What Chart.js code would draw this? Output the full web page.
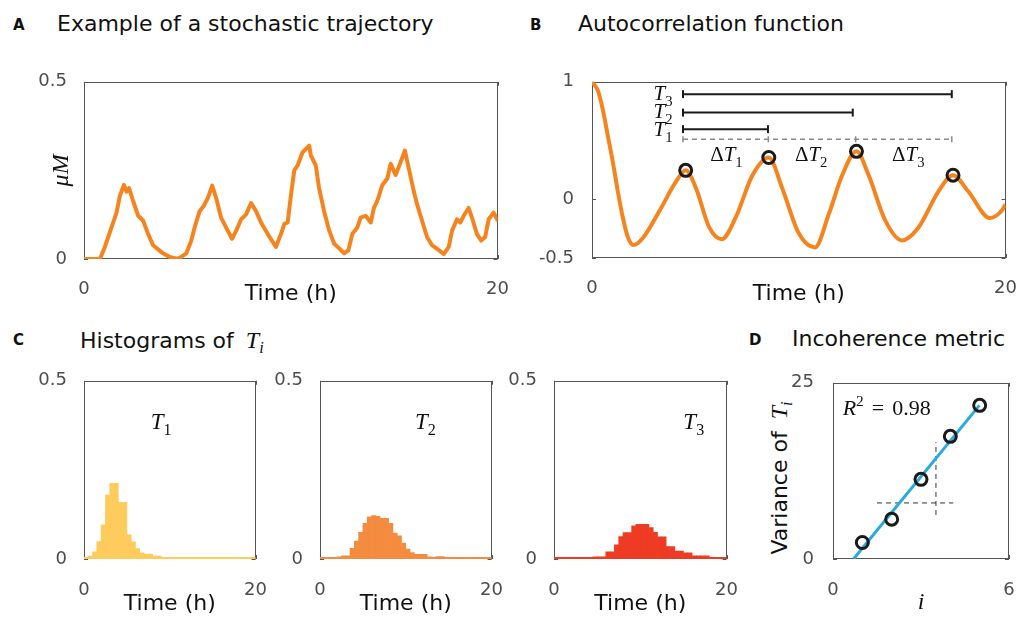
<!DOCTYPE html>
<html>
<head>
<meta charset="utf-8">
<script src="https://cdn.jsdelivr.net/npm/chart.js@4.4.1/dist/chart.umd.min.js"></script>
<style>
  body { margin:0; background:#fff; width:1017px; height:617px; position:relative; overflow:hidden;
         font-family:"DejaVu Sans", sans-serif; color:#111; }
  canvas { position:absolute; }
  .t { position:absolute; font-size:22px; line-height:1; white-space:nowrap; }
  .p { position:absolute; font-size:15px; font-weight:bold; line-height:1; }
  .m { font-family:"Liberation Serif", serif; font-style:italic; font-size:24px; }
  .m sub { font-size:0.68em; vertical-align:-0.3em; line-height:0; }
</style>
</head>
<body>
<div class="p" style="left:13px;top:18px">A</div>
<div class="t" style="left:57px;top:13px">Example of a stochastic trajectory</div>
<div class="p" style="left:530px;top:18px">B</div>
<div class="t" style="left:578px;top:13px">Autocorrelation function</div>
<div class="p" style="left:13px;top:333px">C</div>
<div class="t" style="left:80px;top:328px">Histograms of <span class="m" style="margin-left:5px">T<sub>i</sub></span></div>
<div class="p" style="left:749px;top:333px">D</div>
<div class="t" style="left:792px;top:328px">Incoherence metric</div>
<div class="t" style="left:779px;top:478px;transform:translate(-50%,-50%) rotate(-90deg)">Variance of <span class="m" style="margin-left:5px">T<sub>i</sub></span></div>

<canvas id="chartA"></canvas>
<canvas id="chartB"></canvas>
<canvas id="chartC1"></canvas>
<canvas id="chartC2"></canvas>
<canvas id="chartC3"></canvas>
<canvas id="chartD"></canvas>

<script>
// ---- data ----
const trajTime = [0, 0.77, 1.01, 1.33, 1.57, 1.73, 1.93, 2.06, 2.18, 2.38, 2.62, 2.86, 3.10, 3.34, 3.82, 4.14, 4.55, 4.95, 5.19, 5.35,
  5.59, 5.78, 5.99, 6.20, 6.39, 6.63, 6.87, 7.16, 7.36, 7.60, 7.84, 8.08, 8.32, 8.56, 8.88, 9.28, 9.53, 9.69, 9.85, 10.01,
  10.17, 10.33, 10.57, 10.89, 10.97, 11.21, 11.37, 11.61, 11.86, 12.10, 12.34, 12.58, 12.79, 12.98, 13.22, 13.38, 13.62, 13.87, 14.02, 14.18,
  14.43, 14.67, 14.83, 15.07, 15.31, 15.52, 15.71, 15.95, 16.11, 16.35, 16.59, 16.83, 17.16, 17.40, 17.64, 17.80, 18.04, 18.20, 18.36, 18.60,
  18.81, 19.00, 19.21, 19.40, 19.57, 19.81, 20.00];
const trajValue = [0, 0, 0.034, 0.089, 0.13, 0.177, 0.209, 0.19, 0.2, 0.163, 0.122, 0.108, 0.071, 0.039, 0.016, 0.006, 0, 0.016, 0.052, 0.089,
  0.135, 0.149, 0.172, 0.207, 0.172, 0.117, 0.089, 0.057, 0.08, 0.112, 0.126, 0.158, 0.135, 0.103, 0.071, 0.034, 0.071, 0.099, 0.103, 0.181,
  0.25, 0.264, 0.301, 0.32, 0.292, 0.264, 0.2, 0.135, 0.08, 0.043, 0.03, 0.016, 0.025, 0.071, 0.089, 0.117, 0.122, 0.103, 0.144, 0.163,
  0.209, 0.227, 0.269, 0.237, 0.273, 0.306, 0.255, 0.191, 0.154, 0.108, 0.062, 0.039, 0.025, 0.014, 0.034, 0.08, 0.112, 0.103, 0.122, 0.144,
  0.108, 0.071, 0.052, 0.062, 0.112, 0.131, 0.11];

const acfTime = [0, 0.29, 0.53, 0.77, 1.01, 1.25, 1.49, 1.73, 2.01, 2.46, 3.26, 4.06, 4.53, 5.03, 5.67, 6.27, 6.95, 7.76, 8.55, 9.2,
  10.0, 10.78, 11.45, 12.1, 12.79, 13.38, 14.18, 14.99, 15.79, 16.75, 17.46, 18.2, 19.24, 19.8, 20];
const acfValue = [1, 0.923, 0.757, 0.536, 0.315, 0.066, -0.155, -0.32, -0.39, -0.33, -0.1, 0.15, 0.246, 0.094, -0.24, -0.34, -0.155, 0.204, 0.356, 0.094,
  -0.29, -0.41, -0.127, 0.204, 0.408, 0.204, -0.18, -0.35, -0.24, 0.066, 0.205, 0.066, -0.16, -0.1, -0.044];

const peakTime = [4.53, 8.55, 12.79, 17.46];
const peakValue = [0.246, 0.356, 0.408, 0.205];

const periodStart = 4.4;
const periodEnd = [8.51, 12.61, 17.4];      // T1, T2, T3
const periodLevel = [0.597, 0.738, 0.895];
const gapMarks = [4.4, 8.53, 12.75, 17.4];
const gapLevel = 0.511;

const binCenters = [0.25, 0.75, 1.25, 1.75, 2.25, 2.75, 3.25, 3.75, 4.25, 4.75, 5.25, 5.75, 6.25, 6.75, 7.25, 7.75, 8.25, 8.75, 9.25, 9.75,
  10.25, 10.75, 11.25, 11.75, 12.25, 12.75, 13.25, 13.75, 14.25, 14.75, 15.25, 15.75, 16.25, 16.75, 17.25, 17.75, 18.25, 18.75, 19.25, 19.75];
const histT1 = [0.005, 0.008, 0.02, 0.049, 0.096, 0.179, 0.212, 0.212, 0.159, 0.159, 0.068, 0.048, 0.029, 0.017, 0.014, 0.014, 0.008, 0.008, 0.005, 0.005,
  0.005, 0.005, 0.005, 0.005, 0.005, 0.005, 0.005, 0.005, 0.005, 0.005, 0.005, 0.005, 0.005, 0.005, 0.005, 0.005, 0.005, 0.005, 0.005, 0.005];
const histT2 = [0.005, 0.005, 0.005, 0.005, 0.006, 0.009, 0.009, 0.03, 0.05, 0.075, 0.1, 0.118, 0.122, 0.12, 0.114, 0.114, 0.1, 0.073, 0.065, 0.045,
  0.028, 0.018, 0.013, 0.013, 0.013, 0.006, 0.005, 0.007, 0.007, 0.005, 0.005, 0.005, 0.005, 0.005, 0.005, 0.005, 0.005, 0.005, 0.005, 0.005];
const histT3 = [0.005, 0.005, 0.005, 0.005, 0.005, 0.005, 0.005, 0.005, 0.005, 0.006, 0.006, 0.006, 0.02, 0.02, 0.04, 0.063, 0.074, 0.074, 0.093, 0.097,
  0.097, 0.097, 0.088, 0.075, 0.062, 0.062, 0.035, 0.035, 0.022, 0.022, 0.017, 0.017, 0.009, 0.009, 0.009, 0.009, 0.005, 0.005, 0.005, 0.005];

const varIndex = [1, 2, 3, 4, 5];
const varValue = [2.34, 5.65, 11.3, 17.4, 21.8];
const fitX = [0.7, 4.99];
const fitY = [0, 21.8];
const slopeGuideH = {x: [1.5, 4.1], y: [7.95, 7.95]};
const slopeGuideV = {x: [3.51, 3.51], y: [6.25, 16.6]};

// ---- styling ----
const SANS = '"DejaVu Sans", sans-serif';
const SERIF = '"Liberation Serif", serif';
const TICK = '#4d4d4d';
const FRAME = '#555';
const ORANGE = '#f5841f';
const PL = 60, PT = 16, PR = 22;

const frame = {
  id: 'frame',
  beforeDatasetsDraw(chart) {
    const {ctx, chartArea: a, scales} = chart;
    ctx.save();
    ctx.strokeStyle = FRAME;
    ctx.lineWidth = 1;
    ctx.strokeRect(Math.round(a.left) + 0.5, Math.round(a.top) + 0.5, Math.round(a.width) - 1, Math.round(a.height) - 1);
    ctx.beginPath();
    scales.y.ticks.forEach(t => {
      const p = Math.round(scales.y.getPixelForValue(t.value)) + 0.5;
      ctx.moveTo(a.left, p); ctx.lineTo(a.left + 4, p);
      ctx.moveTo(a.right, p); ctx.lineTo(a.right - 4, p);
    });
    scales.x.ticks.forEach(t => {
      const p = Math.round(scales.x.getPixelForValue(t.value)) + 0.5;
      ctx.moveTo(p, a.bottom); ctx.lineTo(p, a.bottom - 4);
      ctx.moveTo(p, a.top); ctx.lineTo(p, a.top + 4);
    });
    ctx.stroke();
    ctx.restore();
  }
};
Chart.register(frame);

// text in math style, placed in data coordinates
function mathLabels(items) {
  return {
    id: 'mathLabels',
    afterDatasetsDraw(chart) {
      const {ctx, scales: {x, y}} = chart;
      items.forEach(it => {
        const size = it.size || 20;
        const parts = it.parts.map(p => {
          const s = (p.sub || p.sup) ? size * 0.7 : size;
          const font = (p.italic ? 'italic ' : '') + s + 'px ' + SERIF;
          ctx.font = font;
          return {t: p.t, font, w: ctx.measureText(p.t).width + (p.gap || 0),
                  dy: p.sub ? size * 0.28 : (p.sup ? -size * 0.38 : 0)};
        });
        const total = parts.reduce((s, p) => s + p.w, 0);
        let px = x.getPixelForValue(it.x);
        if (it.align === 'center') px -= total / 2;
        if (it.align === 'right') px -= total;
        const py = y.getPixelForValue(it.y);
        ctx.save();
        ctx.fillStyle = '#111';
        ctx.textAlign = 'left';
        ctx.textBaseline = 'alphabetic';
        parts.forEach(p => { ctx.font = p.font; ctx.fillText(p.t, px, py + p.dy); px += p.w; });
        ctx.restore();
      });
    }
  };
}

function place(id, r, pb) {
  const c = document.getElementById(id);
  const w = r.r - r.l + PL + PR, h = r.b - r.t + PT + pb;
  c.width = w; c.height = h;
  c.style.left = (r.l - PL) + 'px';
  c.style.top = (r.t - PT) + 'px';
  c.style.width = w + 'px';
  c.style.height = h + 'px';
  return c;
}

function axes(o) {
  return {
    x: {
      type: 'linear', min: o.xr[0], max: o.xr[1], offset: false,
      afterFit: s => { s.height = o.pb; },
      afterBuildTicks: s => { s.ticks = o.xt.map(v => ({value: v})); },
      grid: {display: false, offset: false}, border: {display: false},
      ticks: {padding: o.xpad, color: TICK, font: {family: SANS, size: 18}, maxRotation: 0, autoSkip: false,
        callback: v => String(v)},
      title: o.xtitle ? {display: true, text: o.xtitle, color: '#111',
        font: o.xserif ? {family: SERIF, style: 'italic', size: 24} : {family: SANS, size: 22},
        padding: {top: 0, bottom: o.xtpad}} : {display: false}
    },
    y: {
      type: 'linear', min: o.yr[0], max: o.yr[1],
      afterFit: s => { s.width = PL; },
      afterBuildTicks: s => { s.ticks = o.yt.map(v => ({value: v})); },
      grid: {display: false}, border: {display: false},
      ticks: {padding: o.ypad, color: TICK, font: {family: SANS, size: 18}, autoSkip: false,
        callback: v => String(v)},
      title: o.ytitle ? {display: true, text: o.ytitle, color: '#111',
        font: {family: SERIF, style: 'italic', size: 24}, padding: {top: o.ytpad, bottom: 0}} : {display: false}
    }
  };
}

function baseOptions(o) {
  return {
    responsive: false, animation: false, devicePixelRatio: 1,
    layout: {padding: {top: PT, right: PR, left: 0, bottom: 0}},
    plugins: {legend: {display: false}, tooltip: {enabled: false}},
    scales: axes(o)
  };
}

const pts = (xs, ys) => xs.map((x, i) => ({x, y: ys[i]}));

// ---- A: stochastic trajectory ----
new Chart(place('chartA', {l: 84, t: 78, r: 499, b: 259}, 50), {
  type: 'line',
  data: {datasets: [{
    data: pts(trajTime, trajValue), borderColor: ORANGE, borderWidth: 4,
    pointRadius: 0, tension: 0, borderJoinStyle: 'round', borderCapStyle: 'round'
  }]},
  options: baseOptions({xr: [0, 20], xt: [0, 20], yr: [0, 0.5], yt: [0, 0.5], pb: 50, xpad: 12, ypad: 9,
    xtitle: 'Time (h)', xtpad: 2, ytitle: 'μM', ytpad: 23})
});

// ---- B: autocorrelation ----
const periodSets = periodEnd.map((e, i) => ({
  data: pts([periodStart, e], [periodLevel[i], periodLevel[i]]),
  borderColor: '#1a1a1a', borderWidth: 2, pointStyle: 'line', pointRotation: 90,
  pointRadius: 4, pointBorderWidth: 2, pointBorderColor: '#1a1a1a', clip: false
}));
new Chart(place('chartB', {l: 592, t: 77, r: 1007, b: 258}, 50), {
  type: 'line',
  data: {datasets: [
    {data: pts(peakTime, peakValue), showLine: false, pointStyle: 'circle', pointRadius: 6,
     pointBorderWidth: 3, pointBorderColor: '#1a1a1a', pointBackgroundColor: 'rgba(0,0,0,0)'},
    ...periodSets,
    {data: pts(gapMarks, gapMarks.map(() => gapLevel)), borderColor: '#8a8a8a', borderWidth: 1.5,
     borderDash: [5, 4], pointStyle: 'line', pointRotation: 90, pointRadius: 3,
     pointBorderWidth: 1.5, pointBorderColor: '#8a8a8a'},
    {data: pts(acfTime, acfValue), borderColor: ORANGE, borderWidth: 4, pointRadius: 0,
     cubicInterpolationMode: 'monotone'}
  ]},
  options: baseOptions({xr: [0, 20], xt: [0, 20], yr: [-0.5, 1], yt: [-0.5, 0, 1], pb: 50, xpad: 12, ypad: 10,
    xtitle: 'Time (h)', xtpad: 1}),
  plugins: [mathLabels([
    {x: 3.9, y: 0.848, align: 'right', size: 21, parts: [{t: 'T', italic: true}, {t: '3', sub: true}]},
    {x: 3.9, y: 0.688, align: 'right', size: 21, parts: [{t: 'T', italic: true}, {t: '2', sub: true}]},
    {x: 3.9, y: 0.536, align: 'right', size: 21, parts: [{t: 'T', italic: true}, {t: '1', sub: true}]},
    {x: 6.5, y: 0.323, align: 'center', size: 21, parts: [{t: 'Δ'}, {t: 'T', italic: true}, {t: '1', sub: true}]},
    {x: 10.6, y: 0.323, align: 'center', size: 21, parts: [{t: 'Δ'}, {t: 'T', italic: true}, {t: '2', sub: true}]},
    {x: 15.3, y: 0.323, align: 'center', size: 21, parts: [{t: 'Δ'}, {t: 'T', italic: true}, {t: '3', sub: true}]}
  ])]
});

// ---- C: histograms ----
function histogram(id, rect, values, color, sub, labelX) {
  new Chart(place(id, rect, 60), {
    type: 'bar',
    data: {datasets: [{data: pts(binCenters, values), backgroundColor: color, borderWidth: 0,
      barPercentage: 1, categoryPercentage: 1}]},
    options: baseOptions({xr: [0, 20], xt: [0, 20], yr: [0, 0.5], yt: [0, 0.5], pb: 60, xpad: 13, ypad: 9,
      xtitle: 'Time (h)', xtpad: 2}),
    plugins: [mathLabels([{x: labelX, y: 0.365, align: 'center', size: 23,
      parts: [{t: 'T', italic: true}, {t: sub, sub: true}]}])]
  });
}
histogram('chartC1', {l: 84, t: 377, r: 258, b: 559}, histT1, '#ffcb5c', '1', 9.0);
histogram('chartC2', {l: 320, t: 377, r: 494, b: 559}, histT2, '#f48c3f', '2', 12.3);
histogram('chartC3', {l: 554, t: 377, r: 729, b: 559}, histT3, '#ee3b24', '3', 16.2);

// ---- D: incoherence metric ----
new Chart(place('chartD', {l: 833, t: 377, r: 1009, b: 559}, 58), {
  type: 'line',
  data: {datasets: [
    {data: pts(varIndex, varValue), showLine: false, pointStyle: 'circle', pointRadius: 6,
     pointBorderWidth: 3, pointBorderColor: '#1a1a1a', pointBackgroundColor: 'rgba(0,0,0,0)'},
    {data: pts(fitX, fitY), borderColor: '#29a9e1', borderWidth: 3, pointRadius: 0},
    {data: pts(slopeGuideH.x, slopeGuideH.y), borderColor: '#333', borderWidth: 1, borderDash: [5, 4], pointRadius: 0},
    {data: pts(slopeGuideV.x, slopeGuideV.y), borderColor: '#333', borderWidth: 1, borderDash: [5, 4], pointRadius: 0}
  ]},
  options: baseOptions({xr: [0, 6], xt: [0, 6], yr: [0, 25], yt: [0, 25], pb: 58, xpad: 13, ypad: 11,
    xtitle: 'i', xserif: true, xtpad: 0}),
  plugins: [mathLabels([{x: 0.33, y: 20.5, align: 'left', size: 22,
    parts: [{t: 'R', italic: true}, {t: '2', sup: true, gap: 8}, {t: '=', gap: 8}, {t: '0.98'}]}])]
});
</script>
</body>
</html>
